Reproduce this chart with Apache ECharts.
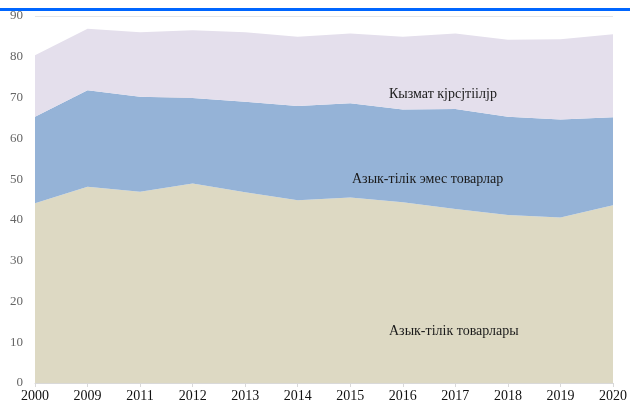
<!DOCTYPE html>
<html>
<head>
<meta charset="utf-8">
<script src="https://cdn.jsdelivr.net/npm/echarts@6/dist/echarts.min.js"></script>
<style>
  html, body { margin: 0; padding: 0; background: #fff; }
  #chart { width: 630px; height: 404px; }
</style>
</head>
<body>
<div id="chart"></div>
<script>
const years = ["2000", "2009", "2011", "2012", "2013", "2014", "2015", "2016", "2017", "2018", "2019", "2020"];
// shares, stacked from bottom up
const food = [44.1, 48.1, 46.9, 48.9, 46.8, 44.8, 45.5, 44.3, 42.7, 41.2, 40.6, 43.6];
const nonFood = [21.2, 23.7, 23.3, 21.0, 22.2, 23.1, 23.1, 22.8, 24.5, 24.1, 24.0, 21.6];
const services = [15.1, 15.1, 15.8, 16.6, 17.0, 17.0, 17.1, 17.8, 18.5, 18.9, 19.7, 20.3];
const seriesNames = ["Азык-тiлiк товарлары", "Азык-тiлiк эмес товарлар", "Кызмат кјрсјтiiлјр"];

const serif = "Liberation Serif";

function area(name, data, color) {
  return {
    name: name,
    type: "line",
    stack: "total",
    data: data,
    symbol: "none",
    lineStyle: { width: 0 },
    areaStyle: { color: color, opacity: 1 },
    silent: true
  };
}

function note(text, x, y) {
  return {
    type: "text", left: x, top: y, z: 100,
    style: { text: text, fontFamily: serif, fontSize: 14, fill: "#1a1a1a" }
  };
}

const chart = echarts.init(document.getElementById("chart"));
chart.setOption({
  animation: false,
  grid: { left: 35, right: 16, top: 16, bottom: 21 },
  xAxis: {
    type: "category",
    data: years,
    boundaryGap: false,
    axisLine: { lineStyle: { color: "#d9d9d9" } },
    axisTick: { show: true, length: 4, lineStyle: { color: "#d9d9d9" } },
    axisLabel: { color: "#111", fontFamily: serif, fontSize: 14, margin: 6 }
  },
  yAxis: {
    type: "value",
    min: 0,
    max: 90,
    interval: 10,
    axisLine: { show: false },
    axisTick: { show: false },
    splitLine: { lineStyle: { color: "#e6e6e6" } },
    axisLabel: { color: "#666", fontFamily: serif, fontSize: 13, margin: 12 }
  },
  series: [
    area(seriesNames[0], food, "#ddd9c3"),
    area(seriesNames[1], nonFood, "#95b3d7"),
    area(seriesNames[2], services, "#e4dfec")
  ],
  graphic: [
    { type: "rect", left: 0, top: 8, z: 1, shape: { width: 630, height: 3 }, style: { fill: "#0066ff" } },
    note(seriesNames[2], 389, 87),
    note(seriesNames[1], 352, 172),
    note(seriesNames[0], 389, 324)
  ]
});
</script>
</body>
</html>
